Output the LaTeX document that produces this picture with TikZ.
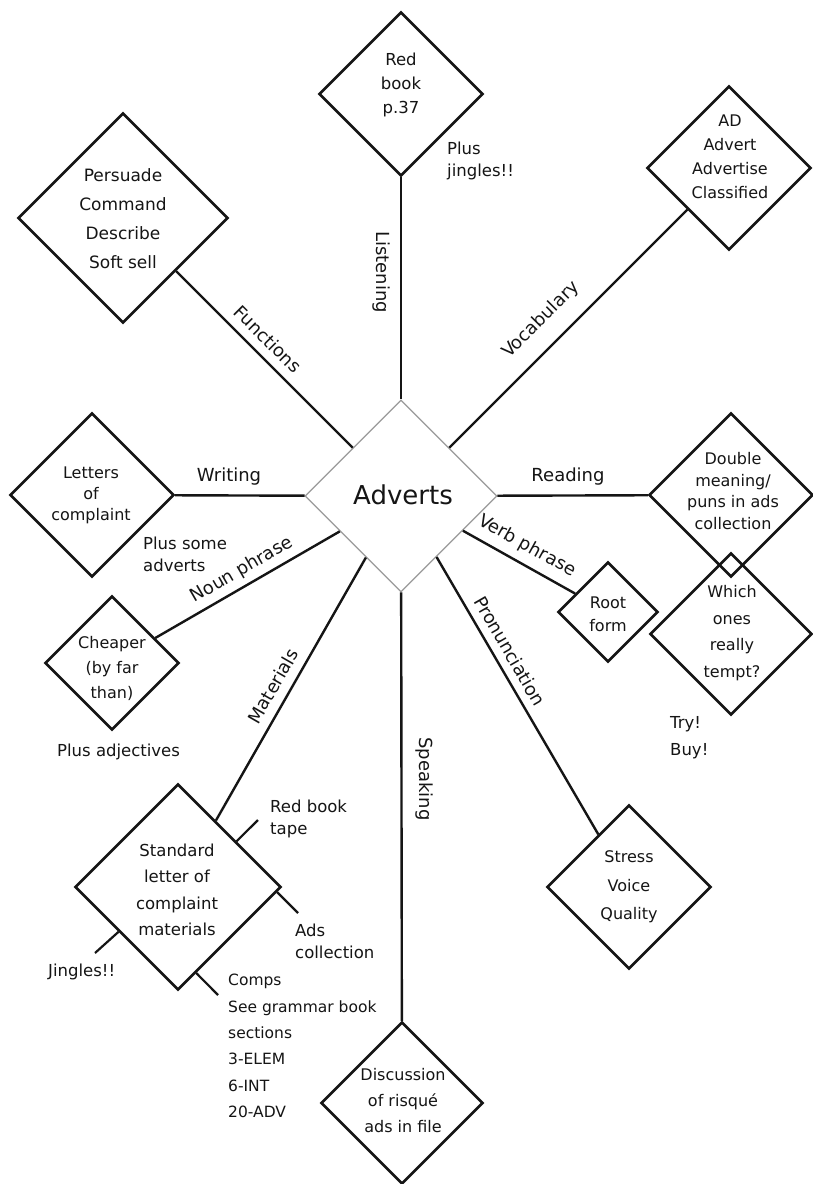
\documentclass[tikz,border=0pt]{standalone}
\usepackage{fontspec}
\setmainfont{DejaVu Sans}
\usetikzlibrary{shapes.geometric}
\definecolor{ink}{HTML}{151515}
\definecolor{faint}{HTML}{9A9A9A}
\tikzset{
  box/.style={draw=ink, shape=diamond, aspect=1, inner sep=0pt, line width=2.7pt, minimum width=#1, minimum height=#1},
  hub/.style={draw=faint, shape=diamond, aspect=1, inner sep=0pt, line width=1.2pt, minimum width=#1, minimum height=#1},
  txt/.style={align=center, inner sep=0pt, text=ink, font=\fontsize{16.5}{26}\selectfont},
  note/.style={align=left, inner sep=0pt, text=ink, anchor=west, font=\fontsize{16.5}{22}\selectfont},
  lbl/.style={inner sep=0pt, text=ink, font=\fontsize{18}{20}\selectfont},
  conn/.style={draw=ink, line width=2.4pt},
  stub/.style={draw=ink, line width=2.2pt}
}
\begin{document}
\begin{tikzpicture}[x=1pt,y=-1pt]
\useasboundingbox (0,0) rectangle (813,1184);
\fill[white] (0,0) rectangle (813,1184);

% diamonds
\node[hub=192]    (adv)    at (401,496) {};
\node[box=164]    (rb)     at (401,94)  {};
\node[box=210]    (pers)   at (123,218) {};
\node[box=164]    (ad)     at (729,168) {};
\node[box=164]    (let)    at (92,495)  {};
\node[box=164]    (dbl)    at (731,495) {};
\node[box=134]    (chp)    at (112,663) {};
\node[box=100]    (root)   at (608,612) {};
\node[box=162]    (which)  at (731,634) {};
\node[box=206]    (std)    at (178,887) {};
\node[box=164]    (stress) at (629,887) {};
\node[box=162]    (disc)   at (402,1103) {};

% diamond texts
\node[font=\fontsize{26}{30}\selectfont, inner sep=0pt, text=ink] (advT) at (403,495) {Adverts};
\node[txt, font=\fontsize{16.5}{24}\selectfont] (rbT) at (401,85) {Red\\book\\p.37};
\node[txt, font=\fontsize{17}{29}\selectfont] (persT) at (123,219) {Persuade\\Command\\Describe\\Soft sell};
\node[txt, font=\fontsize{16}{24}\selectfont] (adT) at (730,157) {AD\\Advert\\Advertise\\Classified};
\node[txt, font=\fontsize{16}{21}\selectfont] (letT) at (91,495) {Letters\\of\\complaint};
\node[txt, font=\fontsize{16}{25}\selectfont] (chpT) at (112,668) {Cheaper\\(by far\\than)};
\node[txt, font=\fontsize{16}{21.5}\selectfont] (dblT) at (733,491) {Double\\meaning/\\puns in ads\\collection};
\node[txt, font=\fontsize{16}{26.5}\selectfont] (whichT) at (732,633) {Which\\ones\\really\\tempt?};
\node[txt, font=\fontsize{16}{23}\selectfont] (rootT) at (608,614) {Root\\form};
\node[txt, font=\fontsize{16.5}{26.5}\selectfont] (stdT) at (177,890) {Standard\\letter of\\complaint\\materials};
\node[txt, font=\fontsize{16}{28.5}\selectfont] (stressT) at (629,887) {Stress\\Voice\\Quality};
\node[txt, font=\fontsize{16}{26}\selectfont] (discT) at (403,1101) {Discussion\\of risqu\'e\\ads in file};

% connectors
\draw[conn] (rb) -- (adv);
\draw[conn] (pers) -- (adv);
\draw[conn] (ad) -- (adv);
\draw[conn] (let) -- (adv);
\draw[conn] (dbl) -- (adv);
\draw[conn] (chp) -- (adv);
\draw[conn] (std) -- (adv);
\draw[conn] (disc) -- (adv);
\draw[conn] (root) -- (adv);
\draw[conn] (stress) -- (adv);

% connector labels
\node[lbl, rotate=-90] (lListening) at (381,272) {Listening};
\node[lbl, rotate=-45] (lFunctions) at (268,339) {Functions};
\node[lbl, rotate=45]  (lVocab)     at (541,320) {Vocabulary};
\node[lbl] (lWriting) at (229,477) {Writing};
\node[lbl] (lReading) at (568,477) {Reading};
\node[lbl, rotate=30]  (lNoun)      at (242,570) {Noun phrase};
\node[lbl, rotate=60]  (lMat)       at (273,686) {Materials};
\node[lbl, rotate=-29] (lVerb)      at (527,546) {Verb phrase};
\node[lbl, rotate=-60] (lPron)      at (510,651) {Pronunciation};
\node[lbl, rotate=-90] (lSpeak)     at (424,779) {Speaking};

% stubs from the standard-letter diamond
\coordinate (eTape)  at (258,820);
\coordinate (eAds)   at (298,913);
\coordinate (eJing)  at (95,953);
\coordinate (eComps) at (218,995);
\draw[stub] (std.38) -- (eTape);
\draw[stub] (std.-3) -- (eAds);
\draw[stub] (std.217) -- (eJing);
\draw[stub] (std.282) -- (eComps);

% free notes
\node[note] (nJingles) at (447,161) {Plus\\jingles!!};
\node[note] (nSome)    at (143,554) {Plus some\\adverts};
\node[note] (nAdj)     at (57,752)  {Plus adjectives};
\node[note, font=\fontsize{16.5}{27}\selectfont] (nTry) at (670,738) {Try!\\Buy!};
\node[note] (nTape)    at (270,819) {Red book\\tape};
\node[note] (nAds)     at (295,941) {Ads\\collection};
\node[note] (nJing2)   at (48,972)  {Jingles!!};
\node[note, font=\fontsize{15.5}{26.4}\selectfont] (nComps) at (228,1046) {Comps\\See grammar book\\sections\\3-ELEM\\6-INT\\20-ADV};
\end{tikzpicture}
\end{document}
